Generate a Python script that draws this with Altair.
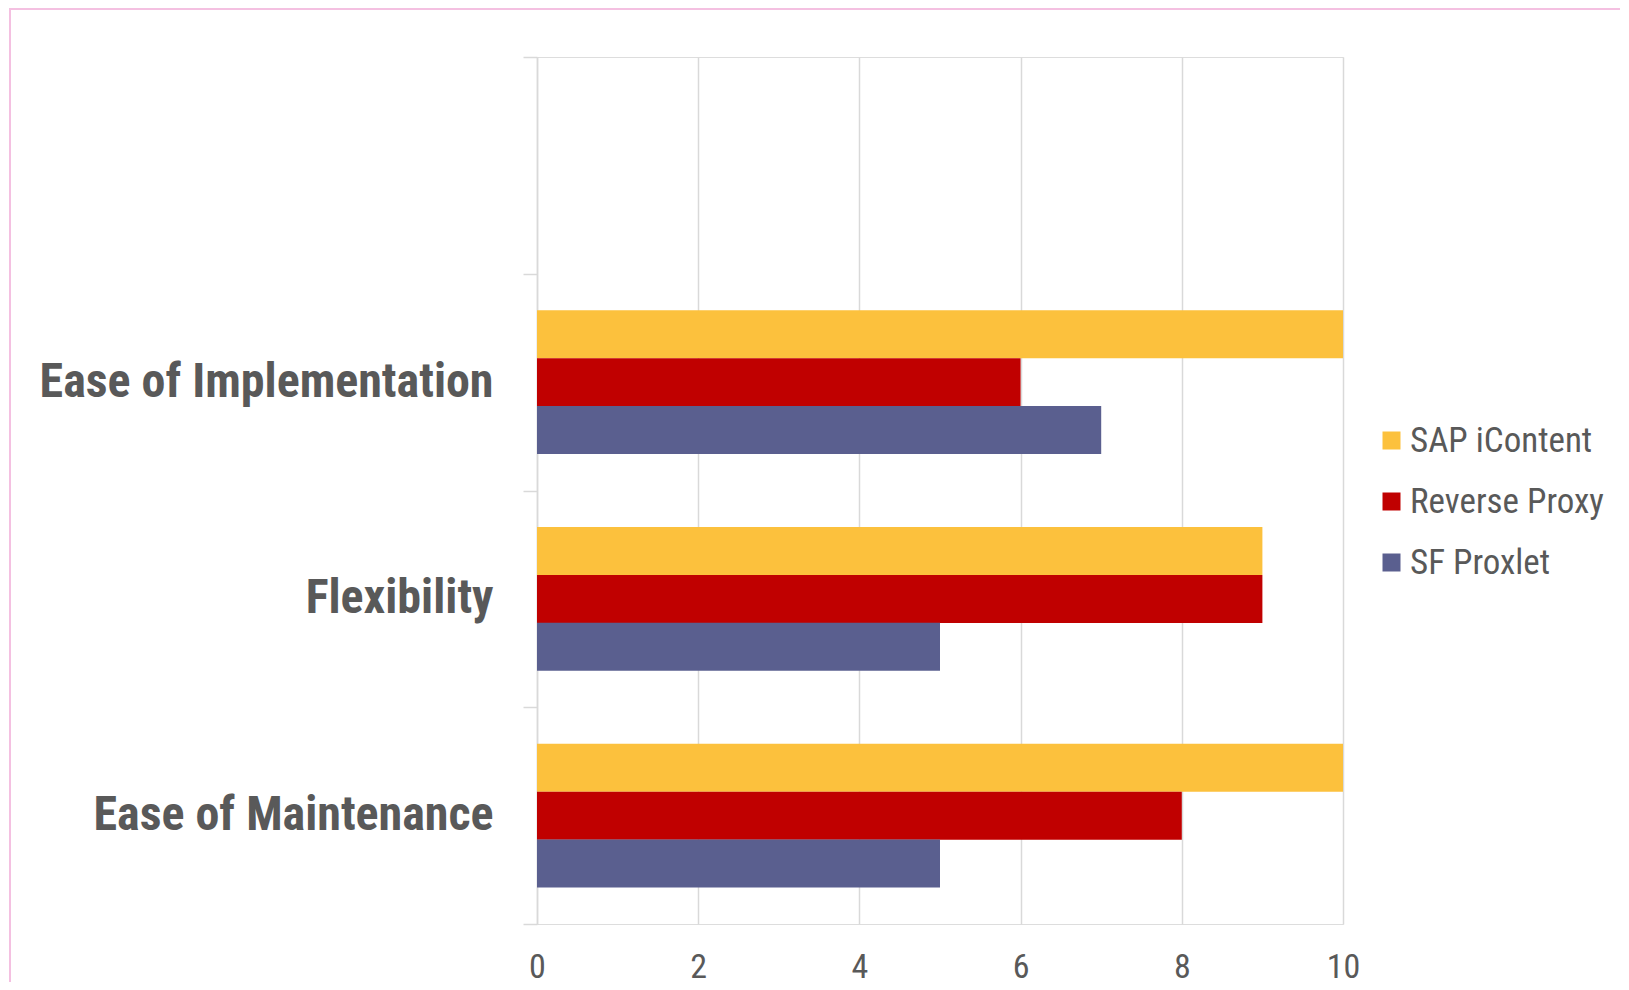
import altair as alt
import pandas as pd

# ---- data ----
categories = [" ", "Ease of Implementation", "Flexibility", "Ease of Maintenance"]
series = ["SAP iContent", "Reverse Proxy", "SF Proxlet"]
colors = ["#FCC13D", "#C00000", "#5A5F8F"]

rows = ["Ease of Implementation", "Flexibility", "Ease of Maintenance"]
sap_icontent = [10, 9, 10]
reverse_proxy = [6, 9, 8]
sf_proxlet = [7, 5, 5]
x_ticks = [0, 2, 4, 6, 8, 10]

records = []
for name, vals in zip(series, [sap_icontent, reverse_proxy, sf_proxlet]):
    for cat, v in zip(rows, vals):
        records.append({"Category": cat, "Series": name, "Value": v})
df = pd.DataFrame(records)

NARROW = "'Liberation Sans Narrow', 'Arial Narrow', 'Roboto Condensed', 'Liberation Sans', sans-serif"
TXT = "#595959"
GRID = "#D9D9D9"

W, H = 806, 867

bars = alt.Chart(df).mark_bar(size=48).encode(
    y=alt.Y(
        "Category:N",
        sort=categories,
        scale=alt.Scale(domain=categories, paddingInner=0, paddingOuter=0),
        axis=alt.Axis(
            title=None,
            grid=False,
            domain=True,
            domainColor=GRID,
            domainWidth=1.5,
            ticks=True,
            tickColor=GRID,
            tickWidth=1.5,
            tickSize=14,
            tickBand="extent",
            labelFont=NARROW,
            labelFontWeight="bold",
            labelFontSize=48,
            labelColor=TXT,
            labelPadding=30,
            labelLimit=700,
        ),
    ),
    yOffset=alt.YOffset(
        "Series:N",
        sort=series,
        scale=alt.Scale(domain=series, paddingInner=0, paddingOuter=0.76),
    ),
    x=alt.X(
        "Value:Q",
        scale=alt.Scale(domain=[0, 10], nice=False),
        axis=alt.Axis(
            title=None,
            values=x_ticks,
            grid=True,
            gridColor=GRID,
            gridWidth=1.5,
            domain=False,
            ticks=False,
            labelFlush=False,
            labelFont=NARROW,
            labelFontSize=34,
            labelColor=TXT,
            labelPadding=26,
        ),
    ),
    color=alt.Color(
        "Series:N",
        sort=series,
        scale=alt.Scale(domain=series, range=colors),
        legend=alt.Legend(
            title=None,
            orient="none",
            legendX=837,
            legendY=366,
            symbolType="square",
            symbolSize=324,
            symbolStrokeWidth=0,
            labelFont=NARROW,
            labelFontSize=35,
            labelColor=TXT,
            labelOffset=1,
            rowPadding=25,
            padding=0,
            labelLimit=400,
        ),
    ),
)

frame = alt.Chart(alt.Data(values=[{}])).mark_rect(
    fill="white", fillOpacity=0, stroke="#F4C0E1", strokeWidth=2
).encode(
    x=alt.value(-527),
    x2=alt.value(1200),
    y=alt.value(-48),
    y2=alt.value(1100),
)

chart = alt.layer(bars, frame).properties(
    width=W,
    height=H,
    autosize=alt.AutoSizeParams(type="none"),
    padding={"left": 529, "top": 49, "right": 277, "bottom": 58},
).configure_view(stroke=None).configure(background="white")

chart.save("out.html", embed_options={"renderer": "svg", "actions": False})
